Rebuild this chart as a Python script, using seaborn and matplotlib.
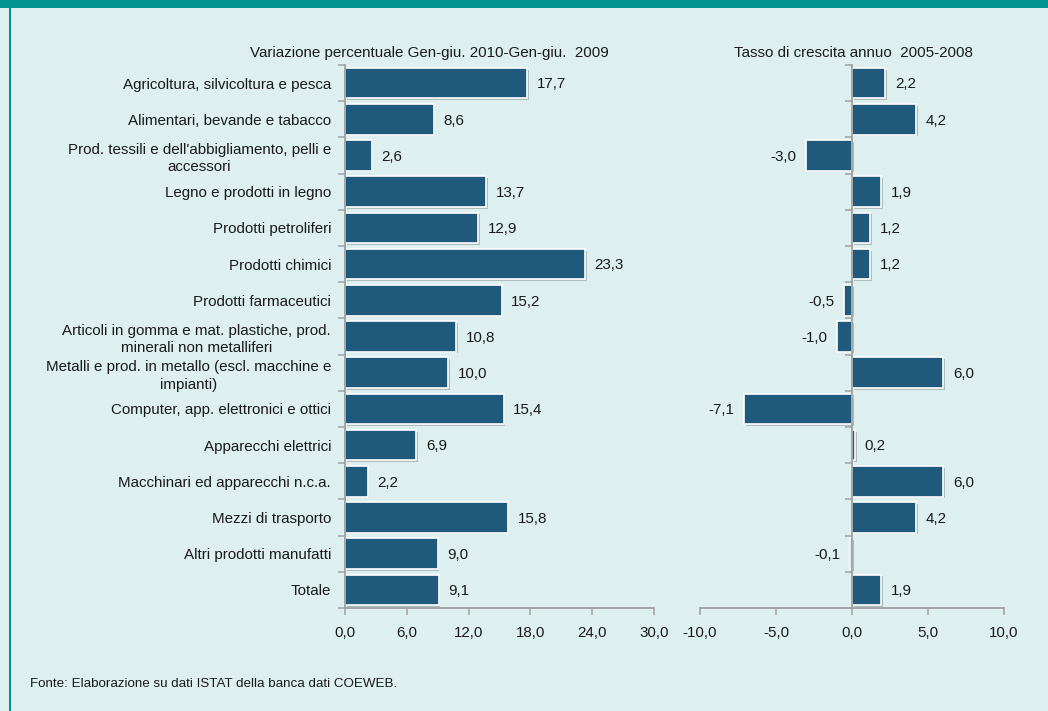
import matplotlib
matplotlib.use("Agg")
import matplotlib.pyplot as plt
import matplotlib.patheffects as pe
from matplotlib.ticker import FixedLocator, FuncFormatter
import seaborn as sns
import pandas as pd

categories = [
    "Agricoltura, silvicoltura e pesca",
    "Alimentari, bevande e tabacco",
    "Prod. tessili e dell'abbigliamento, pelli e\naccessori",
    "Legno e prodotti in legno",
    "Prodotti petroliferi",
    "Prodotti chimici",
    "Prodotti farmaceutici",
    "Articoli in gomma e mat. plastiche, prod.\nminerali non metalliferi",
    "Metalli e prod. in metallo (escl. macchine e\nimpianti)",
    "Computer, app. elettronici e ottici",
    "Apparecchi elettrici",
    "Macchinari ed apparecchi n.c.a.",
    "Mezzi di trasporto",
    "Altri prodotti manufatti",
    "Totale",
]
var_2010_2009 = [17.7, 8.6, 2.6, 13.7, 12.9, 23.3, 15.2, 10.8, 10.0, 15.4, 6.9, 2.2, 15.8, 9.0, 9.1]
tasso_2005_2008 = [2.2, 4.2, -3.0, 1.9, 1.2, 1.2, -0.5, -1.0, 6.0, -7.1, 0.2, 6.0, 4.2, -0.1, 1.9]
left_ticks = [0, 6, 12, 18, 24, 30]
right_ticks = [-10, -5, 0, 5, 10]
title_left = "Variazione percentuale Gen-giu. 2010-Gen-giu.  2009"
title_right = "Tasso di crescita annuo  2005-2008"
source = "Fonte: Elaborazione su dati ISTAT della banca dati COEWEB."

BG = "#DDEFEF"
TEAL = "#00968F"
BAR = "#1F5A7C"
SPINE = "#A0A0A0"
TXT = "#1A1A1A"
FS = 10.9

sns.set_theme(style="white")
plt.rcParams["font.family"] = ["Liberation Sans", "DejaVu Sans"]
plt.rcParams["font.size"] = FS

df = pd.DataFrame({"cat": categories, "v1": var_2010_2009, "v2": tasso_2005_2008})

fig = plt.figure(figsize=(10.48, 7.11), dpi=100, facecolor=BG)

# frame decorations
fig.patches.append(plt.Rectangle((0, 1 - 8 / 711), 1, 8 / 711, transform=fig.transFigure,
                                 facecolor=TEAL, edgecolor="none", zorder=0))
fig.patches.append(plt.Rectangle((8.5 / 1048, 0), 2.5 / 1048, 1 - 8 / 711, transform=fig.transFigure,
                                 facecolor=TEAL, edgecolor="none", zorder=0))

bottom = 1 - 608 / 711
top = 1 - 65 / 711
ax1 = fig.add_axes([345 / 1048, bottom, (654 - 345) / 1048, top - bottom])
ax2 = fig.add_axes([700 / 1048, bottom, (1004 - 700) / 1048, top - bottom])

shadow = [pe.SimplePatchShadow(offset=(1.2, -1.2), shadow_rgbFace="#7a8a8a", alpha=0.5), pe.Normal()]
fmt = lambda v: f"{v:.1f}".replace(".", ",")

for ax, col, xlim, ticks in [(ax1, "v1", (0, 30), left_ticks), (ax2, "v2", (-10, 10), right_ticks)]:
    ax.set_facecolor("none")
    sns.barplot(data=df, x=col, y="cat", ax=ax, color=BAR, saturation=1, width=0.84,
                orient="h", edgecolor="white", linewidth=1.2)
    for p in ax.patches:
        p.set_path_effects(shadow)
    ax.set_xlim(*xlim)
    ax.set_ylim(len(categories) - 0.5, -0.5)
    ax.set_xticks(ticks)
    ax.xaxis.set_major_formatter(FuncFormatter(lambda v, _: fmt(v)))
    ax.set_xlabel("")
    ax.set_ylabel("")
    for s in ["top", "right"]:
        ax.spines[s].set_visible(False)
    for s in ["left", "bottom"]:
        ax.spines[s].set_color(SPINE)
        ax.spines[s].set_linewidth(1.3)
    ax.tick_params(axis="x", bottom=True, length=5, width=1.1, color=SPINE, pad=8,
                   labelsize=FS, labelcolor=TXT)
    ax.yaxis.set_minor_locator(FixedLocator([i - 0.5 for i in range(len(categories) + 1)]))
    ax.tick_params(axis="y", which="minor", left=True, length=5, width=1.1, color=SPINE)
    ax.tick_params(axis="y", which="major", left=False, length=0, pad=10,
                   labelsize=FS, labelcolor=TXT)
    vals = df[col].tolist()
    for i, v in enumerate(vals):
        if v >= 0:
            ax.annotate(fmt(v), (v, i), xytext=(7, -1), textcoords="offset points",
                        ha="left", va="center", fontsize=FS, color=TXT)
        else:
            ax.annotate(fmt(v), (v, i), xytext=(-7, -1), textcoords="offset points",
                        ha="right", va="center", fontsize=FS, color=TXT)

for lbl in ax1.get_yticklabels():
    lbl.set_multialignment("center")
    lbl.set_linespacing(1.3)

ax2.spines["left"].set_position(("data", 0))
ax2.set_yticklabels([])

fig.text(429 / 1048, 1 - 53 / 711, title_left, ha="center", va="center", fontsize=FS, color=TXT)
fig.text(853 / 1048, 1 - 53 / 711, title_right, ha="center", va="center", fontsize=FS, color=TXT)
fig.text(30 / 1048, 1 - 684 / 711, source, ha="left", va="center", fontsize=9.6, color=TXT)

fig.savefig("out.png", dpi=100, facecolor=BG)
